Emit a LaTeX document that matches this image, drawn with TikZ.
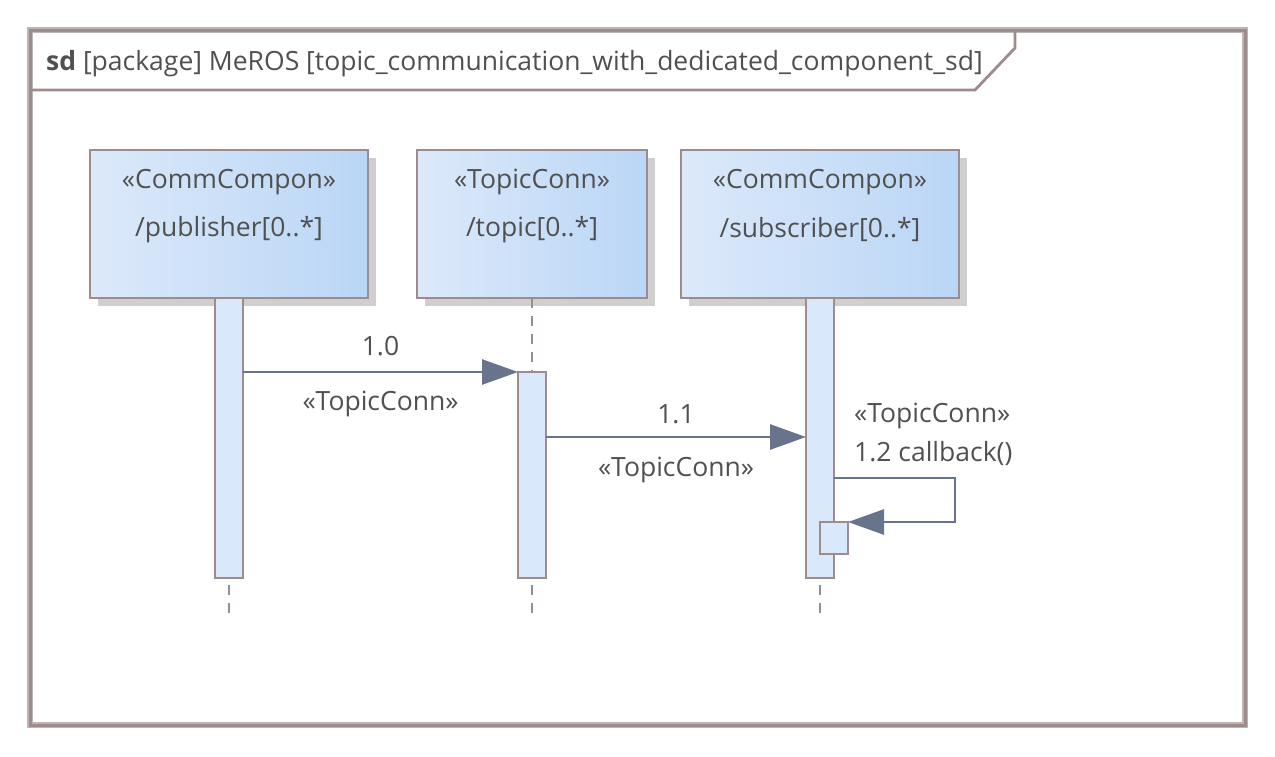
\documentclass[tikz,border=0pt]{standalone}
\usepackage{fontspec}
\setmainfont{Open Sans}
\usetikzlibrary{arrows.meta,positioning,shadows}

\definecolor{framecol}{HTML}{9E8C8C}
\definecolor{frameout}{HTML}{BDB5B5}
\definecolor{txtcol}{HTML}{505050}
\definecolor{msgcol}{HTML}{68748C}
\definecolor{boxleft}{HTML}{DCE9FA}
\definecolor{boxright}{HTML}{BAD6F6}
\definecolor{barfill}{HTML}{DAE8FB}
\definecolor{shadowcol}{HTML}{CFCFCF}

\tikzset{
  headbox/.style={draw=framecol, line width=2pt, left color=boxleft, right color=boxright,
    minimum height=148pt, inner sep=0, outer sep=0,
    drop shadow={shadow xshift=8pt, shadow yshift=-8pt, fill=shadowcol, opacity=1}},
  actbar/.style={draw=framecol, line width=2pt, fill=barfill, minimum width=28pt, inner sep=0, outer sep=0},
  msg/.style={draw=msgcol, line width=2.8pt, -{Triangle[length=36pt,width=25pt]}},
  lifeline/.style={draw=framecol, line width=2pt, dash pattern=on 10pt off 8pt},
  lbl/.style={text=txtcol, font=\fontsize{26.5}{31}\selectfont, inner sep=0},
}

\begin{document}
\begin{tikzpicture}[x=1pt, y=-1pt]

\useasboundingbox (0,0) rectangle (1275,756);

% frame
\draw [frameout, line width=5.5pt] (30,30) rectangle (1245,725);
\draw [framecol, line width=3pt] (30,30) rectangle (1245,725);
\draw [framecol, line width=2.8pt] (30,90) -- (975,90) -- (1015,48) -- (1015,30);
\node [lbl, anchor=base west] (title) at (46,70)
  {\textbf{sd} [package] MeROS [topic\_communication\_with\_dedicated\_component\_sd]};

% lifeline heads
\node [headbox, minimum width=278pt, anchor=north west] (pubhead) at (90,150) {};
\node [headbox, minimum width=230pt, right=49pt of pubhead] (topichead) {};
\node [headbox, minimum width=278pt, right=34pt of topichead] (subhead) {};

\foreach \h/\st/\nm in {pubhead/CommCompon/publisher, topichead/TopicConn/topic, subhead/CommCompon/subscriber} {
  \node [lbl] (\h-st) at ([yshift=-32pt]\h.north) {«\st»};
  \node [lbl] (\h-nm) at ([yshift=-80pt]\h.north) {/\nm[0..*]};
}

% activation bars
\node [actbar, minimum height=280pt, below=0pt of pubhead] (pubbar) {};
\node [actbar, minimum height=206pt, below=74pt of topichead] (topicbar) {};
\node [actbar, minimum height=280pt, below=0pt of subhead] (subbar) {};
\coordinate (cbstart) at ([yshift=-180pt]subbar.north east);
\node [actbar, minimum height=32pt, anchor=north west] (cbbar) at ([yshift=-224pt]subbar.north) {};

% lifelines
\draw [lifeline] (topichead.south) -- (topicbar.north);
\foreach \b in {pubbar, topicbar, subbar}
  \draw [lifeline] ([yshift=-7pt]\b.south) -- ([yshift=-37pt]\b.south);

% messages
\draw [msg] (pubbar.east |- topicbar.north) -- (topicbar.north west)
  node [lbl, midway, above=15pt] (m10) {1.0}
  node [lbl, midway, below=18pt] (m10st) {«TopicConn»};
\coordinate (m11) at ([yshift=-65pt]topicbar.north);
\draw [msg] (topicbar.east |- m11) -- (subbar.west |- m11)
  node [lbl, midway, above=12pt] (m11nm) {1.1}
  node [lbl, midway, below=19pt] (m11st) {«TopicConn»};
\draw [msg] (cbstart) -- ++(121,0) |- (cbbar.north east);
\node [lbl, anchor=base west] (cbnm) at ([xshift=20pt, yshift=17pt]cbstart) {1.2 callback()};
\node [lbl, anchor=base west] (cbst) at ([yshift=39pt]cbnm.base west) {«TopicConn»};

\end{tikzpicture}
\end{document}
